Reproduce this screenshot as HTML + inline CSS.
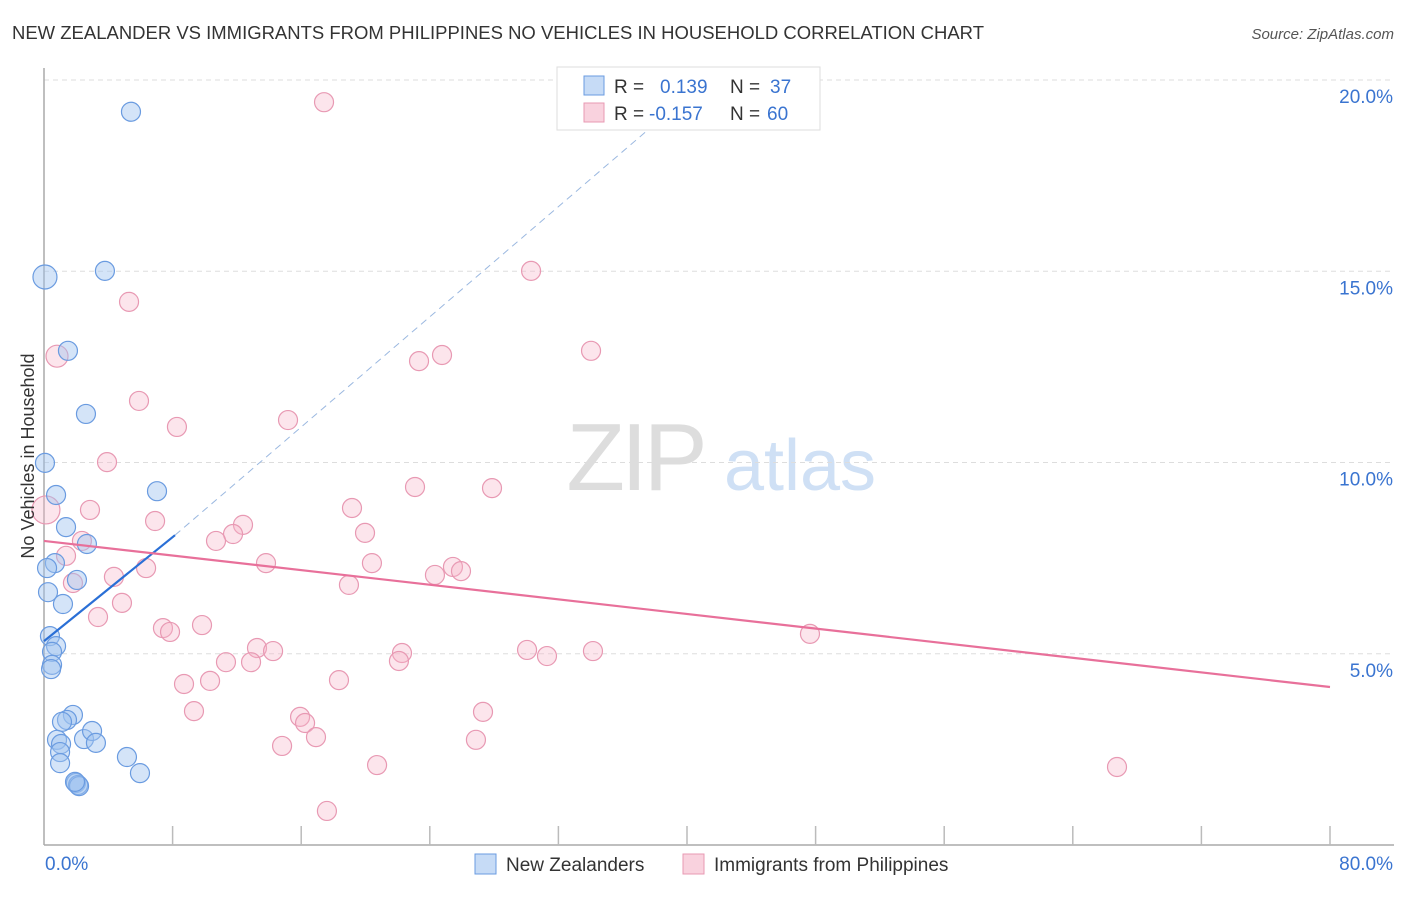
<!DOCTYPE html>
<html><head><meta charset="utf-8">
<style>
body{margin:0;background:#fff;font-family:"Liberation Sans",sans-serif;}
svg text{font-family:"Liberation Sans",sans-serif;}
</style></head>
<body>
<svg id="chart" width="1406" height="892" viewBox="0 0 1406 892">
<text x="12" y="39" font-size="18" fill="#333" textLength="972" lengthAdjust="spacingAndGlyphs">NEW ZEALANDER VS IMMIGRANTS FROM PHILIPPINES NO VEHICLES IN HOUSEHOLD CORRELATION CHART</text>
<text x="1394" y="39" font-size="15" fill="#555" font-style="italic" text-anchor="end">Source: ZipAtlas.com</text>
<g>
<text x="635" y="490" font-size="96" fill="#ddd" font-family="Liberation Serif" text-anchor="middle" letter-spacing="-4">ZIP</text>
<text x="800" y="490" font-size="72" fill="#cfe0f5" text-anchor="middle">atlas</text>
</g>
<g id="grid"></g>
<g id="axes"></g>
<g id="points"></g>
<g id="lines"></g>
<text transform="translate(34,456) rotate(-90)" font-size="18" fill="#333" text-anchor="middle">No Vehicles in Household</text>
<g>
<rect x="557" y="67" width="263" height="63" fill="#fff" stroke="#ddd"/>
<rect x="584" y="76" width="20" height="19" fill="rgba(160,195,240,0.6)" stroke="#6a9be0"/>
<rect x="584" y="103" width="20" height="19" fill="rgba(245,180,200,0.6)" stroke="#e899b3"/>
<text x="614" y="93" font-size="19" fill="#333">R = </text><text x="660" y="93" font-size="19" fill="#3a74d0">0.139</text>
<text x="730" y="93" font-size="19" fill="#333">N = </text><text x="770" y="93" font-size="19" fill="#3a74d0">37</text>
<text x="614" y="120" font-size="19" fill="#333">R = </text><text x="649" y="120" font-size="19" fill="#3a74d0">-0.157</text>
<text x="730" y="120" font-size="19" fill="#333">N = </text><text x="767" y="120" font-size="19" fill="#3a74d0">60</text>
</g>
<g>
<rect x="475" y="854" width="21" height="20" fill="rgba(160,195,240,0.6)" stroke="#6a9be0"/>
<text x="506" y="871" font-size="19" fill="#333">New Zealanders</text>
<rect x="683" y="854" width="21" height="20" fill="rgba(245,180,200,0.6)" stroke="#e899b3"/>
<text x="714" y="871" font-size="19" fill="#333">Immigrants from Philippines</text>
</g>
</svg>
<script>
const blueX=[5.41,3.79,0.06,1.49,2.61,0.06,0.75,7.03,1.37,2.67,0.68,0.19,2.05,0.25,1.18,0.37,0.75,0.50,0.50,0.44,1.80,1.43,1.12,0.81,1.06,1.00,1.00,2.49,2.99,3.23,5.16,5.97,1.99,2.12,2.18,1.93];
const blueY=[19.17,15.01,14.85,12.92,11.27,9.99,9.15,9.25,8.31,7.87,7.37,7.24,6.93,6.61,6.30,5.46,5.20,5.05,4.71,4.60,3.40,3.27,3.22,2.75,2.64,2.43,2.14,2.77,2.98,2.67,2.30,1.88,1.62,1.57,1.54,1.65];
const blueR=[9.5,9.5,12,9.5,9.5,9.5,9.5,9.5,9.5,9.5,9.5,9.5,9.5,9.5,9.5,9.5,9.5,9.5,9.5,9.5,9.5,9.5,9.5,9.5,9.5,9.5,9.5,9.5,9.5,9.5,9.5,9.5,9.5,9.5,9.5,9.5];
const pinkX=[17.42,30.30,5.29,0.81,34.03,24.76,23.33,5.91,15.18,8.27,3.92,23.08,27.87,0.12,2.86,19.16,6.91,12.38,11.76,10.70,19.97,2.36,1.37,6.35,13.81,20.40,4.35,1.80,25.44,25.94,24.32,18.97,4.85,3.36,7.40,7.84,9.83,47.65,13.25,14.25,30.05,31.29,34.15,22.27,22.08,11.32,12.88,8.71,10.33,18.35,9.33,15.93,16.24,27.31,16.92,14.81,26.87,20.72,66.75,17.60];
const pinkY=[19.42,15.01,14.20,12.78,12.92,12.81,12.65,11.61,11.11,10.93,10.01,9.36,9.33,8.76,8.76,8.81,8.47,8.37,8.13,7.95,8.16,7.95,7.56,7.24,7.37,7.37,7.01,6.85,7.27,7.16,7.06,6.80,6.33,5.96,5.67,5.57,5.75,5.52,5.15,5.07,5.10,4.94,5.07,5.02,4.81,4.78,4.78,4.21,4.29,4.31,3.50,3.35,3.19,3.48,2.82,2.59,2.75,2.09,2.04,0.89];
const pinkR=[9.5,9.5,9.5,11,9.5,9.5,9.5,9.5,9.5,9.5,9.5,9.5,9.5,14,9.5,9.5,9.5,9.5,9.5,9.5,9.5,9.5,9.5,9.5,9.5,9.5,9.5,9.5,9.5,9.5,9.5,9.5,9.5,9.5,9.5,9.5,9.5,9.5,9.5,9.5,9.5,9.5,9.5,9.5,9.5,9.5,9.5,9.5,9.5,9.5,9.5,9.5,9.5,9.5,9.5,9.5,9.5,9.5,9.5,9.5];
const yTicks=[5,10,15,20];
const xTickVals=[8,16,24,32,40,48,56,64,72,80];
const blueTrend=[[0,5.33],[8.15,8.1]];
const blueDash=[[8.15,8.1],[38,18.85]];
const pinkTrend=[[0,7.95],[80,4.13]];

const NS='http://www.w3.org/2000/svg';
const X0=44,X1=1330,Y0=845,Y20=80;
const sx=v=>X0+(X1-X0)*v/80;
const sy=v=>Y0-(Y0-Y20)*v/20;
function mk(tag,attrs,parent){const e=document.createElementNS(NS,tag);for(const k in attrs)e.setAttribute(k,attrs[k]);parent.appendChild(e);return e;}
const grid=document.getElementById('grid'),axes=document.getElementById('axes'),pts=document.getElementById('points'),lines=document.getElementById('lines');
yTicks.forEach(t=>{
  const l=mk('line',{x1:X0,x2:1394,y1:sy(t),y2:sy(t),stroke:'#ddd','stroke-dasharray':'5,4'},grid);
  
  
  const tx=mk('text',{x:1393,y:sy(t)+23,'font-size':19,fill:'#3a74d0','text-anchor':'end'},grid);
  tx.textContent=t.toFixed(1)+'%';
  
  
});
const ya=mk('line',{x1:X0,x2:X0,y1:68,y2:Y0,stroke:'#aaa','stroke-width':1.5},axes);


const xa=mk('line',{x1:X0,x2:1394,y1:Y0,y2:Y0,stroke:'#aaa','stroke-width':1.5},axes);


xTickVals.forEach(t=>{
  const l=mk('line',{x1:sx(t),x2:sx(t),y1:826,y2:Y0,stroke:'#bbb','stroke-width':1.5},axes);
  
  
});
const xl0=mk('text',{x:45,y:870,'font-size':19,fill:'#3a74d0'},axes);xl0.textContent='0.0%';


const xl1=mk('text',{x:1393,y:870,'font-size':19,fill:'#3a74d0','text-anchor':'end'},axes);xl1.textContent='80.0%';


pinkX.forEach((v,i)=>{
  const c=mk('circle',{cx:sx(v),cy:sy(pinkY[i]),r:pinkR[i],fill:'rgba(245,180,200,0.35)',stroke:'#e899b3','stroke-width':1.2},pts);
  
  
});
blueX.forEach((v,i)=>{
  const c=mk('circle',{cx:sx(v),cy:sy(blueY[i]),r:blueR[i],fill:'rgba(160,195,240,0.45)',stroke:'#6a9be0','stroke-width':1.2},pts);
  
  
});
const bd=mk('line',{x1:sx(blueDash[0][0]),y1:sy(blueDash[0][1]),x2:sx(blueDash[1][0]),y2:sy(blueDash[1][1]),stroke:'#9bb8e0','stroke-width':1,'stroke-dasharray':'7,5'},lines);


const bt=mk('line',{x1:sx(blueTrend[0][0]),y1:sy(blueTrend[0][1]),x2:sx(blueTrend[1][0]),y2:sy(blueTrend[1][1]),stroke:'#2a6fd6','stroke-width':2.2},lines);


const pt=mk('line',{x1:sx(pinkTrend[0][0]),y1:sy(pinkTrend[0][1]),x2:sx(pinkTrend[1][0]),y2:sy(pinkTrend[1][1]),stroke:'#e8709a','stroke-width':2.2},lines);


</script>
</body></html>
